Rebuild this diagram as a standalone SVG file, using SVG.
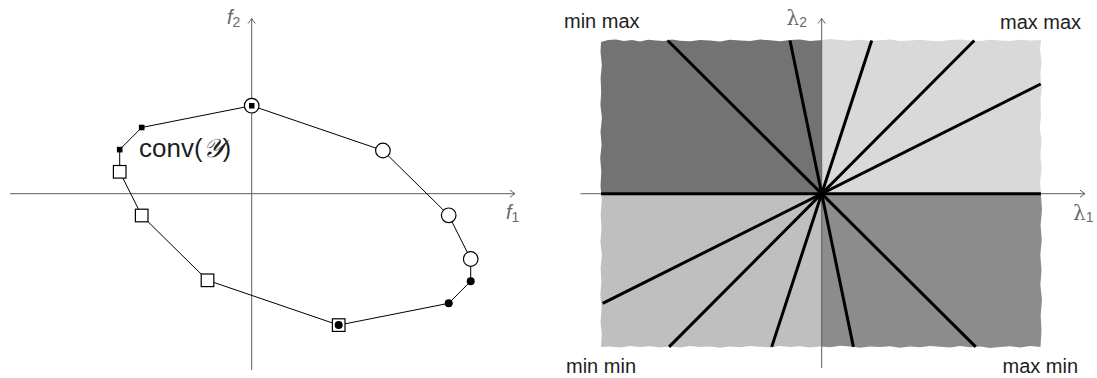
<svg xmlns="http://www.w3.org/2000/svg" width="1097" height="378" viewBox="0 0 1097 378">
  <defs>
    <style>
      .axis { stroke: #5e5e5e; stroke-width: 1; fill: none; }
      .edge { stroke: #000; stroke-width: 1; fill: none; }
      .ray { stroke: #000; stroke-width: 3; fill: none; }
      .open { fill: #fff; stroke: #000; stroke-width: 1.2; }
      .solid { fill: #000; stroke: none; }
      .lbl { font-family: "Liberation Sans", Arial, sans-serif; font-size: 20px; fill: #1e1e1e; }
      .big { font-size: 26px; }
      .axl { font-family: "Liberation Sans", Arial, sans-serif; font-size: 20px; fill: #6a6a6a; }
      .greek { font-family: "DejaVu Serif", "Liberation Serif", serif; font-size: 20px; fill: #6a6a6a; }
      .sub { font-family: "Liberation Sans", Arial, sans-serif; font-size: 14px; fill: #6a6a6a; }
    </style>
    <marker id="arr" markerWidth="10" markerHeight="10" viewBox="-6 -5 8 10" refX="0" refY="0" orient="auto" markerUnits="userSpaceOnUse">
      <path d="M-5,-3.6 Q-1.5,-0.8 0,0 Q-1.5,0.8 -5,3.6" fill="none" stroke="#5e5e5e" stroke-width="1"/>
    </marker>
    <!-- torn-paper outline of the weight plane -->
    <clipPath id="torn">
      <path d="M601,42 L608,40 L616,39.5 L624,41 L632,40 L640,41.5 L648,39.8 L656,40.5 L664,41 L672,39.6 L680,40.8 L690,41.2 L700,40 L710,40.6 L720,41.5 L730,39.8 L740,40.4 L750,41 L760,39.6 L770,40.2 L780,41.3 L790,40 L800,39.5 L810,41 L820,40.3 L830,39 L840,40 L850,40.8 L860,39.7 L870,41 L880,40.2 L890,39.5 L900,41 L910,40.4 L920,39.7 L930,40.8 L940,41.2 L950,40 L960,39.4 L970,40.6 L980,41 L990,39.8 L1000,40.4 L1010,41.1 L1020,39.7 L1030,40.5 L1041,40
               L1040,50 L1041.5,62 L1040.3,75 L1041.8,88 L1040.5,100 L1041,115 L1039.8,128 L1041.5,140 L1040.4,155 L1041.6,168 L1040.2,182 L1041,195 L1042,210 L1040.6,225 L1041.8,240 L1040.3,255 L1041.5,270 L1040.4,285 L1042,300 L1040.7,315 L1041.5,330 L1040.5,347
               L1030,346 L1020,347.5 L1010,346.3 L1000,347 L990,348 L980,346.4 L970,347.2 L960,346 L950,347.6 L940,346.8 L930,345.9 L920,347.3 L910,346.5 L900,347.8 L890,346.2 L880,347 L870,346.4 L860,347.7 L850,346.6 L840,345.8 L830,347.2 L820,346.5 L810,347.6 L800,346.2 L790,347.1 L780,346 L770,347.5 L760,346.7 L750,345.9 L740,347.2 L730,346.4 L720,347.8 L710,346.5 L700,347 L690,346.1 L680,347.4 L670,346.6 L660,347.5 L650,346.3 L640,347.1 L630,346 L620,347.4 L610,346.6 L601,347
               L601.8,335 L600.5,322 L601.6,308 L600.3,295 L601.4,282 L600.6,268 L602,255 L600.4,242 L601.5,228 L600.7,214 L601.8,200 L600.5,186 L601.3,172 L600.2,158 L601.6,145 L600.5,132 L601.9,118 L600.4,105 L601.2,92 L600.6,78 L601.8,65 L600.5,52 Z"/>
    </clipPath>
  </defs>

  <!-- ===== objective space ===== -->
  <g id="objective-axes">
    <line class="axis" x1="10" y1="193.7" x2="515" y2="193.7" marker-end="url(#arr)"/>
    <line class="axis" x1="251.7" y1="370" x2="251.7" y2="18.5" marker-end="url(#arr)"/>
    <text class="axl" x="506" y="219"><tspan font-style="italic">f</tspan><tspan class="sub" dy="3">1</tspan></text>
    <text class="axl" x="227" y="24"><tspan font-style="italic">f</tspan><tspan class="sub" dy="3">2</tspan></text>
  </g>

  <g id="hull-edges">
    <polygon class="edge" points="251.7,105.7 382.9,150.5 448.7,215.3 470.7,259 470.7,281.2 448.7,303.3 338.7,325.1 207.5,280.3 141.7,215.5 119.7,171.8 119.7,149.6 141.7,127.5"/>
  </g>

  <g id="p1"><circle class="open" cx="251.7" cy="105.7" r="7.3"/><rect class="solid" x="249" y="103" width="5.5" height="5.5"/></g>
  <g id="p2"><circle class="open" cx="382.9" cy="150.5" r="7.3"/></g>
  <g id="p3"><circle class="open" cx="448.7" cy="215.3" r="7.3"/></g>
  <g id="p4"><circle class="open" cx="470.7" cy="259" r="7.3"/></g>
  <g id="p5"><circle class="solid" cx="470.7" cy="281.2" r="4"/></g>
  <g id="p6"><circle class="solid" cx="448.7" cy="303.3" r="4"/></g>
  <g id="p7"><rect class="open" x="332.4" y="318.8" width="12.6" height="12.6" stroke="#333"/><circle class="solid" cx="338.7" cy="325.1" r="4"/></g>
  <g id="p8"><rect class="open" x="201.2" y="274" width="12.6" height="12.6"/></g>
  <g id="p9"><rect class="open" x="135.4" y="209.2" width="12.6" height="12.6"/></g>
  <g id="p10"><rect class="open" x="113.4" y="165.5" width="12.6" height="12.6"/></g>
  <g id="p11"><rect class="solid" x="116.9" y="146.8" width="5.6" height="5.6"/></g>
  <g id="p12"><rect class="solid" x="138.9" y="124.7" width="5.6" height="5.6"/></g>

  <text id="hull-label" class="lbl big" x="139" y="157">conv(<tspan font-family="DejaVu Serif, Liberation Serif, serif" font-style="italic">𝒴</tspan>)</text>

  <!-- ===== weight space ===== -->
  <g id="weight-plane" clip-path="url(#torn)">
    <rect x="595" y="35" width="226.7" height="158.7" fill="#737373"/>
    <rect x="821.7" y="35" width="225" height="158.7" fill="#d9d9d9"/>
    <rect x="595" y="193.7" width="226.7" height="160" fill="#bfbfbf"/>
    <rect x="821.7" y="193.7" width="225" height="160" fill="#8c8c8c"/>
  </g>

  <g id="weight-axes">
    <line class="axis" x1="580.5" y1="193.7" x2="1085" y2="193.7" marker-end="url(#arr)"/>
    <line class="axis" x1="821.7" y1="368" x2="821.7" y2="18.5" marker-end="url(#arr)"/>
    <text class="greek" x="1073" y="220">λ<tspan class="sub" dy="2">1</tspan></text>
    <text class="greek" x="786.5" y="25">λ<tspan class="sub" dy="2">2</tspan></text>
  </g>

  <g id="rays">
    <line class="ray" x1="601" y1="193.7" x2="1041" y2="193.7"/>
    <line class="ray" x1="667.7" y1="40.5" x2="975.7" y2="346.9"/>
    <line class="ray" x1="790" y1="40.5" x2="853.4" y2="346.9"/>
    <line class="ray" x1="871.7" y1="40.5" x2="771.7" y2="346.9"/>
    <line class="ray" x1="974.3" y1="40.5" x2="669.1" y2="346.9"/>
    <line class="ray" x1="1040.7" y1="84" x2="602.7" y2="303.4"/>
  </g>

  <g id="corner-labels">
    <text class="lbl" x="564" y="28">min max</text>
    <text class="lbl" x="1000" y="29">max max</text>
    <text class="lbl" x="566" y="373">min min</text>
    <text class="lbl" x="1002.5" y="373">max min</text>
  </g>
</svg>
